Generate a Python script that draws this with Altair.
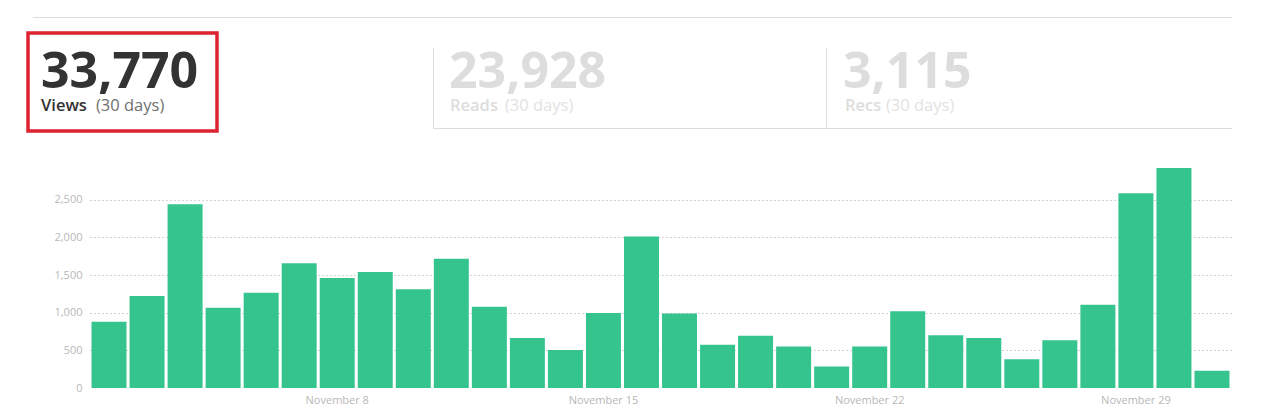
import altair as alt
import pandas as pd

# ---------------- data ----------------
days = [
    "November 2", "November 3", "November 4", "November 5", "November 6",
    "November 7", "November 8", "November 9", "November 10", "November 11",
    "November 12", "November 13", "November 14", "November 15", "November 16",
    "November 17", "November 18", "November 19", "November 20", "November 21",
    "November 22", "November 23", "November 24", "November 25", "November 26",
    "November 27", "November 28", "November 29", "November 30", "December 1",
]
views = [
    880, 1220, 2440, 1065, 1265, 1655, 1460, 1540, 1310, 1715,
    1080, 665, 505, 995, 2010, 990, 575, 695, 550, 285,
    550, 1020, 700, 665, 380, 635, 1105, 2585, 2920, 230,
]
x_tick_days = ["November 8", "November 15", "November 22", "November 29"]
y_ticks = [0, 500, 1000, 1500, 2000, 2500]

stat_values = ["33,770", "23,928", "3,115"]
stat_names = ["Views", "Reads", "Recs"]
stat_period = "(30 days)"

# ---------------- layout ----------------
W, H = 1141, 226
PAD_L, PAD_T = 82, 154
OX, OY = 8 + PAD_L, 8 + PAD_T  # page position of plot origin


def px(x):
    return x - OX


def py(y):
    return y - OY


GREEN = "#35c48d"
LINE = "#dcdcdc"
AXIS_TXT = "#b8b8b8"

df = pd.DataFrame({"day": days, "views": views})

bars = alt.Chart(df).mark_bar(color=GREEN).encode(
    x=alt.X(
        "day:N",
        sort=None,
        scale=alt.Scale(paddingInner=0.08, paddingOuter=0.04),
        axis=alt.Axis(
            values=x_tick_days, title=None, labelAngle=0, tickSize=0,
            domain=False, grid=False, labelPadding=6, labelFontSize=11,
            labelColor=AXIS_TXT, labelFont="Open Sans",
        ),
    ),
    y=alt.Y(
        "views:Q",
        scale=alt.Scale(domain=[0, 3000], nice=False),
        axis=alt.Axis(
            values=y_ticks, title=None, format=",.0f", tickSize=0, domain=False,
            labelPadding=8, labelFontSize=11, labelColor=AXIS_TXT,
            labelFont="Open Sans", gridColor="#a8a8a8", gridDash=[1, 3],
            gridWidth=1,
            gridOpacity={"condition": {"test": "datum.value === 0", "value": 0}, "value": 1},
        ),
    ),
)

one = pd.DataFrame({"k": [0]})


def rule(x1, x2, y1, y2, color=LINE, width=1):
    return alt.Chart(one).mark_rule(color=color, strokeWidth=width).encode(
        x=alt.value(x1), x2=alt.value(x2), y=alt.value(y1), y2=alt.value(y2)
    )


def text(s, x, y, size, color, weight="normal"):
    return alt.Chart(pd.DataFrame({"t": [s]})).mark_text(
        align="left", baseline="alphabetic", font="Open Sans",
        fontSize=size, fontWeight=weight, color=color,
    ).encode(text="t:N", x=alt.value(x), y=alt.value(y))


layers = [bars]
# header lines
layers.append(rule(px(33), px(1232), py(17.5), py(17.5)))
layers.append(rule(px(433), px(1232), py(128.5), py(128.5)))
layers.append(rule(px(433.5), px(433.5), py(47.5), py(128.5)))
layers.append(rule(px(826.5), px(826.5), py(47.5), py(128.5)))

# header stats
num_x = [41, 449, 843]
name_x = [41, 450, 845]
period_x = [96, 505, 886]
num_col = ["#333333", "#dddddd", "#dddddd"]
name_col = ["#333333", "#dddddd", "#dddddd"]
per_col = ["#707070", "#e2e2e2", "#e2e2e2"]
for i in range(3):
    layers.append(text(stat_values[i], px(num_x[i]), py(88), 50, num_col[i], "bold"))
    layers.append(text(stat_names[i], px(name_x[i]), py(111), 16.5, name_col[i], 600))
    layers.append(text(stat_period, px(period_x[i]), py(111), 16.5, per_col[i]))

# red highlight box
layers.append(
    alt.Chart(one).mark_rect(fillOpacity=0, stroke="#dd2230", strokeWidth=3.5).encode(
        x=alt.value(px(28)), x2=alt.value(px(217)), y=alt.value(py(33)), y2=alt.value(py(131))
    )
)

chart = alt.layer(*layers).properties(
    width=W,
    height=H,
    padding={"left": PAD_L, "top": PAD_T, "right": 22, "bottom": 28},
    autosize=alt.AutoSizeParams(type="none"),
    background="white",
).configure_view(stroke=None)

chart.save("out.html", embed_options={"renderer": "svg", "actions": False})
